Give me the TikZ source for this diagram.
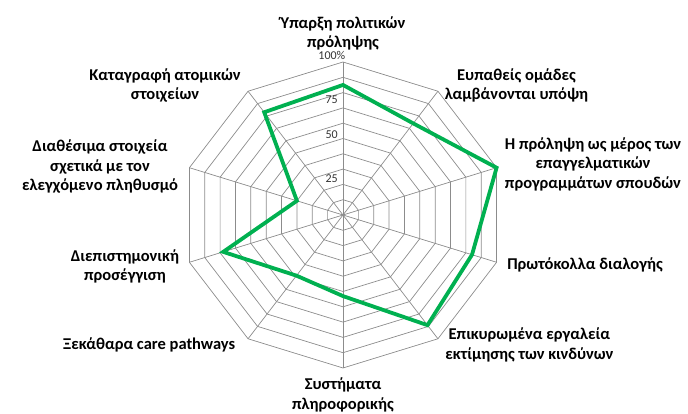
\documentclass[tikz,border=0pt]{standalone}
\usepackage{fontspec}
\setmainfont{Carlito}
\usepackage{tikz}
\usetikzlibrary{positioning}
\usepackage{xcolor}
\definecolor{chartgreen}{RGB}{0,176,80}
\definecolor{gridgray}{RGB}{140,140,140}

\begin{document}
\begin{tikzpicture}[x=1pt, y=1pt,
    gridline/.style={draw=gridgray, line width=0.7pt},
    dataline/.style={draw=chartgreen, line width=3.8pt, line join=miter},
    axislabel/.style={align=center, inner sep=0pt, font=\bfseries\fontsize{16.5}{19.5}\selectfont},
    ticklabel/.style={font=\fontsize{12}{12}\selectfont, text=black!80, inner sep=0pt}]
    \useasboundingbox (-343,-199) rectangle (345,215);
    \foreach \r in {1,...,10}
        \draw[gridline] ({16.15*\r*cos(90)},{15.3*\r*sin(90)})
            \foreach \a in {54,18,-18,-54,-90,-126,-162,-198,-234} { -- ({16.15*\r*cos(\a)},{15.3*\r*sin(\a)}) } -- cycle;
    \foreach \a in {90,54,18,-18,-54,-90,-126,-162,-198,-234}
        \draw[gridline] (0,0) -- ({161.5*cos(\a)},{153*sin(\a)});
    \node[ticklabel, anchor=east] (t25) at (-5,36.7) {25};
    \node[ticklabel, anchor=east] (t50) at (-5,80) {50};
    \node[ticklabel, anchor=east] (t75) at (-5,115) {75};
    \node[ticklabel, anchor=base east] (t100) at (2.5,155) {100\%};
    \foreach \a/\v/\n in {90/85/p0, 54/74/p1, 18/100/p2, -18/84/p3, -54/89/p4,
                          -90/53/p5, -126/49/p6, -162/78/p7, -198/30/p8, -234/83/p9}
        \coordinate (\n) at ({1.615*\v*cos(\a)},{1.53*\v*sin(\a)});
    \draw[dataline] (p0) -- (p1) -- (p2) -- (p3) -- (p4) -- (p5) -- (p6) -- (p7) -- (p8) -- (p9) -- cycle;
    \node[axislabel] (lblA) at (0,181.5) {Ύπαρξη πολιτικών\\πρόληψης};
    \node[axislabel] (lblB) at (173.5,129.5) {Ευπαθείς ομάδες\\λαμβάνονται υπόψη};
    \node[axislabel] (lblC) at (250,51) {Η πρόληψη ως μέρος των\\επαγγελματικών\\προγραμμάτων σπουδών};
    \node[axislabel] (lblD) at (242,-50) {Πρωτόκολλα διαλογής};
    \node[axislabel] (lblE) at (186.4,-130) {Επικυρωμένα εργαλεία\\εκτίμησης των κινδύνων};
    \node[axislabel] (lblF) at (0,-179.8) {Συστήματα\\πληροφορικής};
    \node[axislabel] (lblG) at (-193.8,-130) {Ξεκάθαρα care pathways};
    \node[axislabel] (lblH) at (-218,-51.3) {Διεπιστημονική\\προσέγγιση};
    \node[axislabel] (lblI) at (-243,48.5) {Διαθέσιμα στοιχεία\\σχετικά με τον\\ελεγχόμενο πληθυσμό};
    \node[axislabel] (lblJ) at (-178,129.5) {Καταγραφή ατομικών\\στοιχείων};
\end{tikzpicture}
\end{document}
